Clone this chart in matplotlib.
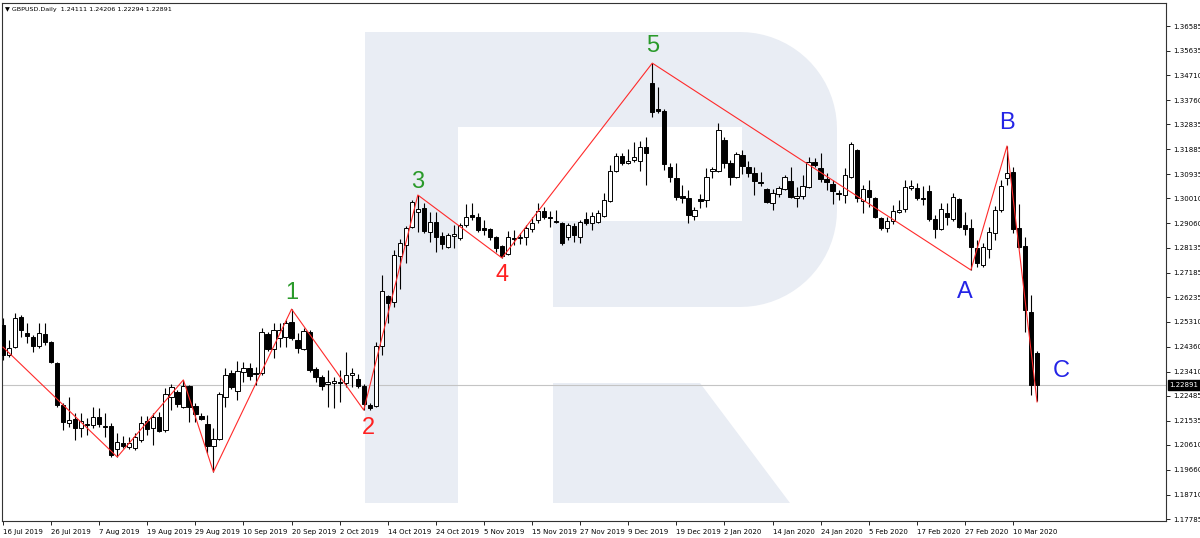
import matplotlib.pyplot as plt
import matplotlib.patches as mpatches
import numpy as np
import pandas as pd

# GBPUSD daily candles, 16 Jul 2019 .. 16 Mar 2020
opens = [1.2518, 1.2404, 1.2434, 1.2549, 1.2488, 1.2473, 1.2438, 1.2484, 1.2454, 1.2373,
         1.2213, 1.2145, 1.2160, 1.2126, 1.2141, 1.2137, 1.2168, 1.2133, 1.2133, 1.2045,
         1.2068, 1.2053, 1.2049, 1.2080, 1.2152, 1.2126, 1.2168, 1.2118, 1.2244, 1.2263,
         1.2206, 1.2286, 1.2209, 1.2171, 1.2141, 1.2057, 1.2084, 1.2244, 1.2335, 1.2267,
         1.2339, 1.2354, 1.2335, 1.2335, 1.2484, 1.2427, 1.2469, 1.2473, 1.2530, 1.2461,
         1.2427, 1.2492, 1.2351, 1.2320, 1.2293, 1.2297, 1.2301, 1.2297, 1.2328, 1.2312,
         1.2286, 1.2213, 1.2209, 1.2438, 1.2629, 1.2606, 1.2781, 1.2823, 1.2892, 1.2949,
         1.2964, 1.2873, 1.2911, 1.2858, 1.2816, 1.2858, 1.2850, 1.2900, 1.2938, 1.2930,
         1.2888, 1.2884, 1.2854, 1.2820, 1.2789, 1.2850, 1.2850, 1.2854, 1.2884, 1.2919,
         1.2953, 1.2930, 1.2915, 1.2907, 1.2854, 1.2896, 1.2854, 1.2923, 1.2907, 1.2911,
         1.2934, 1.2991, 1.3106, 1.3163, 1.3136, 1.3148, 1.3144, 1.3197, 1.3441, 1.3342,
         1.3334, 1.3121, 1.3079, 1.3010, 1.3003, 1.2934, 1.2999, 1.2995, 1.3106, 1.3106,
         1.3224, 1.3136, 1.3083, 1.3167, 1.3121, 1.3098, 1.3064, 1.3037, 1.2984, 1.3018,
         1.3037, 1.3067, 1.3003, 1.3010, 1.3045, 1.3140, 1.3117, 1.3075, 1.3056, 1.3022,
         1.3014, 1.3083, 1.3186, 1.2991, 1.3033, 1.3003, 1.2926, 1.2888, 1.2915, 1.2949,
         1.2961, 1.3041, 1.3041, 1.3003, 1.3029, 1.2923, 1.2884, 1.2945, 1.2923, 1.2999,
         1.2900, 1.2888, 1.2812, 1.2747, 1.2808, 1.2869, 1.2957, 1.3079, 1.3102, 1.2888,
         1.2820, 1.2568, 1.24111]
highs = [1.2545, 1.2461, 1.2564, 1.2556, 1.2526, 1.2480, 1.2526, 1.2526, 1.2457, 1.2377,
         1.2221, 1.2244, 1.2183, 1.2183, 1.2164, 1.2206, 1.2202, 1.2183, 1.2145, 1.2106,
         1.2095, 1.2091, 1.2106, 1.2171, 1.2171, 1.2183, 1.2187, 1.2278, 1.2293, 1.2270,
         1.2309, 1.2290, 1.2221, 1.2183, 1.2175, 1.2126, 1.2263, 1.2354, 1.2347, 1.2381,
         1.2377, 1.2373, 1.2358, 1.2507, 1.2492, 1.2526, 1.2526, 1.2537, 1.2579, 1.2488,
         1.2507, 1.2499, 1.2358, 1.2328, 1.2347, 1.2320, 1.2347, 1.2415, 1.2354, 1.2331,
         1.2293, 1.2221, 1.2454, 1.2709, 1.2633, 1.2804, 1.2846, 1.2896, 1.2995, 1.3014,
         1.2984, 1.2949, 1.2949, 1.2873, 1.2869, 1.2900, 1.2907, 1.2980, 1.2984, 1.2945,
         1.2919, 1.2888, 1.2858, 1.2823, 1.2877, 1.2881, 1.2869, 1.2900, 1.2930, 1.2984,
         1.2968, 1.2953, 1.2957, 1.2911, 1.2907, 1.2907, 1.2919, 1.2949, 1.2949, 1.2957,
         1.3022, 1.3129, 1.3174, 1.3174, 1.3189, 1.3216, 1.3220, 1.3235, 1.3517, 1.3426,
         1.3342, 1.3136, 1.3136, 1.3052, 1.3033, 1.2968, 1.3018, 1.3117, 1.3121, 1.3289,
         1.3235, 1.3148, 1.3178, 1.3186, 1.3144, 1.3121, 1.3102, 1.3041, 1.3037, 1.3048,
         1.3090, 1.3121, 1.3045, 1.3090, 1.3159, 1.3155, 1.3174, 1.3098, 1.3071, 1.3033,
         1.3117, 1.3216, 1.3189, 1.3052, 1.3071, 1.3006, 1.2930, 1.2930, 1.2976, 1.2995,
         1.3071, 1.3071, 1.3060, 1.3048, 1.3052, 1.2938, 1.2984, 1.2984, 1.3022, 1.3003,
         1.2949, 1.2923, 1.2842, 1.2831, 1.2892, 1.2972, 1.3071, 1.3201, 1.3121, 1.2980,
         1.2854, 1.2633, 1.24206]
lows = [1.2385, 1.2396, 1.2431, 1.2473, 1.2450, 1.2415, 1.2431, 1.2442, 1.2373, 1.2206,
        1.2118, 1.2129, 1.2080, 1.2091, 1.2099, 1.2126, 1.2129, 1.2091, 1.2015, 1.2015,
        1.2049, 1.2045, 1.2042, 1.2072, 1.2099, 1.2061, 1.2110, 1.2110, 1.2194, 1.2206,
        1.2202, 1.2148, 1.2148, 1.2156, 1.2030, 1.1958, 1.2080, 1.2206, 1.2274, 1.2232,
        1.2301, 1.2309, 1.2290, 1.2328, 1.2419, 1.2392, 1.2434, 1.2434, 1.2461, 1.2412,
        1.2423, 1.2339, 1.2301, 1.2270, 1.2206, 1.2202, 1.2225, 1.2282, 1.2282, 1.2278,
        1.2194, 1.2194, 1.2206, 1.2404, 1.2526, 1.2587, 1.2656, 1.2755, 1.2888, 1.2873,
        1.2869, 1.2835, 1.2797, 1.2808, 1.2812, 1.2812, 1.2842, 1.2892, 1.2919, 1.2873,
        1.2862, 1.2842, 1.2797, 1.2774, 1.2785, 1.2823, 1.2827, 1.2823, 1.2873, 1.2907,
        1.2923, 1.2892, 1.2907, 1.2823, 1.2842, 1.2835, 1.2831, 1.2900, 1.2881, 1.2907,
        1.2930, 1.2987, 1.3102, 1.3129, 1.3132, 1.3140, 1.3106, 1.3052, 1.3312, 1.3327,
        1.3109, 1.3064, 1.2995, 1.2984, 1.2907, 1.2919, 1.2964, 1.2968, 1.3079, 1.3102,
        1.3117, 1.3052, 1.3079, 1.3094, 1.3083, 1.3014, 1.3048, 1.2984, 1.2957, 1.3006,
        1.3033, 1.3003, 1.2968, 1.2999, 1.3041, 1.3121, 1.3064, 1.3033, 1.2980, 1.2995,
        1.2984, 1.3079, 1.2987, 1.2945, 1.2968, 1.2926, 1.2881, 1.2873, 1.2903, 1.2945,
        1.2949, 1.3033, 1.2995, 1.2976, 1.2915, 1.2850, 1.2881, 1.2900, 1.2915, 1.2888,
        1.2862, 1.2728, 1.2740, 1.2740, 1.2774, 1.2842, 1.2949, 1.3052, 1.2869, 1.2812,
        1.2492, 1.2251, 1.22294]
closes = [1.2404, 1.2431, 1.2545, 1.2499, 1.2476, 1.2438, 1.2488, 1.2454, 1.2377, 1.2213,
          1.2148, 1.2156, 1.2126, 1.2152, 1.2137, 1.2168, 1.2141, 1.2129, 1.2023, 1.2072,
          1.2057, 1.2068, 1.2091, 1.2145, 1.2122, 1.2168, 1.2114, 1.2255, 1.2282, 1.2217,
          1.2286, 1.2206, 1.2179, 1.2160, 1.2057, 1.2084, 1.2255, 1.2328, 1.2282, 1.2343,
          1.2354, 1.2324, 1.2331, 1.2492, 1.2427, 1.2499, 1.2499, 1.2526, 1.2469, 1.2431,
          1.2495, 1.2347, 1.2320, 1.2286, 1.2301, 1.2305, 1.2297, 1.2328, 1.2335, 1.2286,
          1.2217, 1.2202, 1.2438, 1.2648, 1.2602, 1.2785, 1.2831, 1.2888, 1.2987, 1.2961,
          1.2877, 1.2911, 1.2854, 1.2827, 1.2862, 1.2865, 1.2900, 1.2930, 1.2930, 1.2881,
          1.2881, 1.2854, 1.2812, 1.2781, 1.2854, 1.2846, 1.2854, 1.2888, 1.2907, 1.2953,
          1.2930, 1.2926, 1.2911, 1.2831, 1.2900, 1.2862, 1.2911, 1.2907, 1.2934, 1.2945,
          1.2995, 1.3106, 1.3163, 1.3136, 1.3144, 1.3159, 1.3197, 1.3174, 1.3331, 1.3334,
          1.3132, 1.3083, 1.3006, 1.3003, 1.2938, 1.2957, 1.2991, 1.3083, 1.3113, 1.3262,
          1.3136, 1.3083, 1.3170, 1.3125, 1.3098, 1.3067, 1.3060, 1.2987, 1.3022, 1.3041,
          1.3083, 1.3006, 1.3010, 1.3048, 1.3140, 1.3129, 1.3075, 1.3064, 1.3029, 1.3018,
          1.3090, 1.3209, 1.3003, 1.3037, 1.3006, 1.2930, 1.2888, 1.2915, 1.2953, 1.2957,
          1.3045, 1.3048, 1.3003, 1.2999, 1.2923, 1.2884, 1.2961, 1.2930, 1.3006, 1.2892,
          1.2884, 1.2816, 1.2755, 1.2816, 1.2873, 1.2957, 1.3048, 1.3098, 1.2884, 1.2816,
          1.2576, 1.2290, 1.22891]

# zigzag pivots (bar index, price) and wave labels
zz_bars = [0, 19, 30, 35, 48, 60, 69, 83, 108, 161, 167, 172]
zz_prices = [1.2434, 1.2015, 1.2309, 1.1958, 1.2579, 1.2194, 1.3014, 1.2774, 1.3517,
             1.2728, 1.3201, 1.2225]
wave_text = ["1", "2", "3", "4", "5", "A", "B", "C"]
wave_bars = [48, 60.8, 69, 83, 108, 160, 167, 176]
wave_prices = [1.2640, 1.2126, 1.3064, 1.2709, 1.3582, 1.2645, 1.3289, 1.2343]
wave_colors = ["#2a9a2a", "#ff2020", "#2a9a2a", "#ff2020", "#2a9a2a", "#2424e6", "#2424e6", "#2424e6"]

price_ticks = [1.36585, 1.35635, 1.34710, 1.33760, 1.32835, 1.31885, 1.30935, 1.30010,
               1.29060, 1.28135, 1.27185, 1.26235, 1.25310, 1.24360, 1.23410, 1.22485,
               1.21535, 1.20610, 1.19660, 1.18710, 1.17785]
last_price = 1.22891

dates = pd.bdate_range("2019-07-16", "2020-03-20")
dates = dates[~dates.isin(pd.to_datetime(["2019-12-25", "2020-01-01"]))][:len(opens)]

o, h, l, c = map(np.array, (opens, highs, lows, closes))
x = np.arange(len(o))
up = c >= o

fig = plt.figure(figsize=(12, 5.38), dpi=100)
ax = fig.add_axes([2 / 1200, 17 / 538, 1164 / 1200, 518 / 538])


def px(pts):
    # pixel coords of the 1200x538 canvas -> figure fraction
    return [(a / 1200, 1 - b / 538) for a, b in pts]


# faint "R" watermark behind the chart
wm = "#e9edf4"
ax.add_patch(mpatches.Polygon(px([(365, 32), (458, 32), (458, 503), (365, 503)]),
                              transform=fig.transFigure, fc=wm, ec="none", zorder=0))
t1 = np.linspace(-np.pi / 2, 0, 20)
t2 = np.linspace(0, np.pi / 2, 20)
bowl = [(458, 32)] + [(740 + 97 * np.cos(t), 129 + 97 * np.sin(t)) for t in t1] \
       + [(740 + 97 * np.cos(t), 210 + 97 * np.sin(t)) for t in t2] \
       + [(553, 307), (553, 221), (742, 221), (742, 127), (458, 127)]
ax.add_patch(mpatches.Polygon(px(bowl), transform=fig.transFigure, fc=wm, ec="none", zorder=0))
ax.add_patch(mpatches.Polygon(px([(553, 383), (700, 383), (790, 503), (553, 503)]),
                              transform=fig.transFigure, fc=wm, ec="none", zorder=0))

# current price line
ax.axhline(last_price, color="#c4c4c4", lw=0.8, zorder=1)

# candles
ax.vlines(x, l, h, color="black", lw=0.8, zorder=2)
body = np.maximum(np.abs(c - o), 0.00012)
ax.bar(x[up], body[up], bottom=o[up], width=0.72, color="white", edgecolor="black", lw=0.7, zorder=3)
ax.bar(x[~up], body[~up], bottom=c[~up], width=0.72, color="black", edgecolor="black", lw=0.7, zorder=3)

# zigzag + wave counts
ax.plot(zz_bars, zz_prices, color="#ff2a2a", lw=0.8, zorder=4)
for txt, xb, yp, col in zip(wave_text, wave_bars, wave_prices, wave_colors):
    ax.text(xb, yp, txt, color=col, fontsize=17, family="Liberation Sans",
            ha="center", va="center", zorder=5)

ax.set_xlim(-0.17, 193.45)
ax.set_ylim(1.17709, 1.37463)

ax.yaxis.tick_right()
ax.set_yticks(price_ticks)
ax.set_yticklabels([f"{p:.5f}" for p in price_ticks])
tick_pos = x[::8]
ax.set_xticks(tick_pos)
ax.set_xticklabels([f"{d.day} {d.strftime('%b %Y')}" for d in dates[::8]], ha="left")
ax.tick_params(axis="both", labelsize=5, length=3, width=0.6, pad=2, colors="black")
ax.tick_params(axis="x", pad=3)
for s in ax.spines.values():
    s.set_linewidth(0.8)
    s.set_color("#333333")

# price tag for the last close
ax.text(1.003, last_price, f"{last_price:.5f}", transform=ax.get_yaxis_transform(),
        color="white", fontsize=5, va="center", ha="left",
        bbox=dict(boxstyle="square,pad=0.25", fc="black", ec="black"))

ax.text(0.003, 0.992, "\u25bc GBPUSD.Daily  1.24111 1.24206 1.22294 1.22891", transform=ax.transAxes,
        fontsize=4.6, va="top", ha="left")

plt.savefig("out.png", dpi=100)
